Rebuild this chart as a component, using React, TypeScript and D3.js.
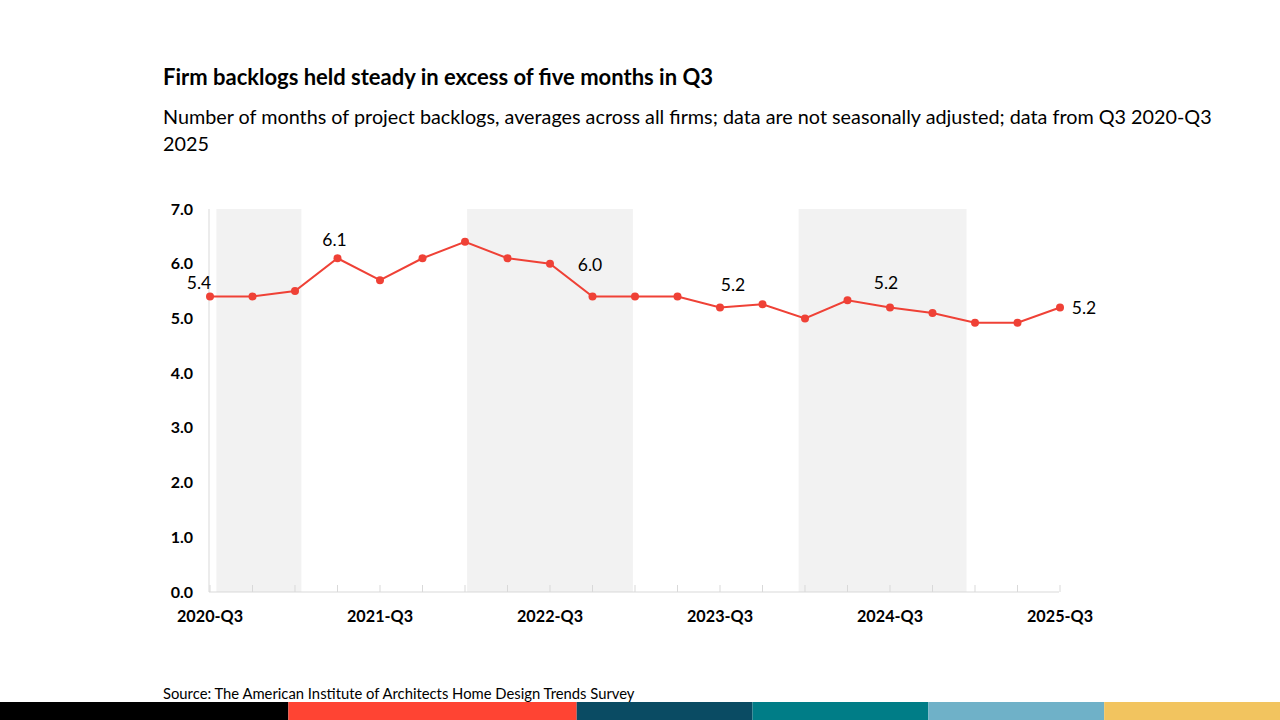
import React from "react";
import * as d3 from "d3";

const quarters = [
  "2020-Q3","2020-Q4","2021-Q1","2021-Q2","2021-Q3","2021-Q4","2022-Q1","2022-Q2","2022-Q3","2022-Q4",
  "2023-Q1","2023-Q2","2023-Q3","2023-Q4","2024-Q1","2024-Q2","2024-Q3","2024-Q4","2025-Q1","2025-Q2","2025-Q3",
];
const backlog = [5.4,5.4,5.5,6.1,5.7,6.1,6.4,6.1,6.0,5.4,5.4,5.4,5.2,5.26,5.0,5.33,5.2,5.1,4.92,4.92,5.2];
const yTicks = [0,1,2,3,4,5,6,7];
const xLabelQuarters = ["2020-Q3","2021-Q3","2022-Q3","2023-Q3","2024-Q3","2025-Q3"];
// shaded bands, in quarter-index units
const bandStarts = [0.15, 6.05, 13.85];
const bandEnds = [2.15, 9.95, 17.8];
// labelled points
const labelIdx = [0, 3, 8, 12, 16, 20];
const labelText = ["5.4","6.1","6.0","5.2","5.2","5.2"];
const stripeColors = ["#000000","#FF4433","#0A4B63","#007D87","#6FB1C8","#F2C45F"];
const stripeWeights = [1.64,1.64,1,1,1,1];

const FONT = "Lato, 'Open Sans', sans-serif";

export default function App() {
  const W = 1280, H = 720;
  const x0 = 210, x1 = 1060, yTop = 209, yBot = 592;
  const x = d3.scaleLinear().domain([0, quarters.length - 1]).range([x0, x1]);
  const y = d3.scaleLinear().domain([0, 7]).range([yBot, yTop]);
  const line = d3.line<number>().x((_, i) => x(i)).y((d) => y(d));
  const labelOffsets: [number, number][] = [[-11, -8], [-3, -12], [40, 7], [13, -16], [-4, -18], [24, 7]];

  const totalW = d3.sum(stripeWeights);
  const stripeX = d3.scaleLinear().domain([0, totalW]).range([0, W]);
  let acc = 0;
  const stripes = stripeWeights.map((w, i) => {
    const s = acc; acc += w;
    return { x: stripeX(s), w: stripeX(acc) - stripeX(s), c: stripeColors[i] };
  });

  return (
    <div style={{ position: "fixed", left: 0, top: 0, width: W, height: H, background: "#fff" }}>
      <svg width={W} height={H} style={{ display: "block" }} fontFamily={FONT}>
        <rect width={W} height={H} fill="#fff" />
        <text x={163} y={85} fontSize={22} fontWeight="bold" fill="#000">
          Firm backlogs held steady in excess of five months in Q3
        </text>
        <text x={163} y={124} fontSize={19.8} fill="#000">
          Number of months of project backlogs, averages across all firms; data are not seasonally adjusted; data from Q3 2020-Q3
        </text>
        <text x={163} y={151} fontSize={19.8} fill="#000">2025</text>

        {bandStarts.map((b, i) => (
          <rect key={i} x={x(b)} y={yTop} width={x(bandEnds[i]) - x(b)} height={yBot - yTop} fill="#F2F2F2" />
        ))}

        <line x1={x0 - 1} x2={x0 - 1} y1={yTop} y2={yBot} stroke="#D9D9D9" strokeWidth={1} />
        <line x1={x0 - 1} x2={x1 - 1} y1={yBot} y2={yBot} stroke="#D9D9D9" strokeWidth={1} />
        {quarters.map((q, i) => (
          <line key={q} x1={x(i)} x2={x(i)} y1={yBot - 7} y2={yBot} stroke="#D9D9D9" strokeWidth={1} />
        ))}

        {yTicks.map((t) => (
          <text key={t} x={193} y={y(t) + 5.5} fontSize={16} fontWeight="bold" textAnchor="end" fill="#000">
            {t.toFixed(1)}
          </text>
        ))}
        {xLabelQuarters.map((q) => (
          <text key={q} x={x(quarters.indexOf(q))} y={622} fontSize={16.2} fontWeight="bold" textAnchor="middle" fill="#000">
            {q}
          </text>
        ))}

        <path d={line(backlog) || ""} fill="none" stroke="#EF4136" strokeWidth={2} />
        {backlog.map((v, i) => (
          <circle key={i} cx={x(i)} cy={y(v)} r={4} fill="#EF4136" />
        ))}
        {labelIdx.map((idx, k) => (
          <text key={k} x={x(idx) + labelOffsets[k][0]} y={y(backlog[idx]) + labelOffsets[k][1]} fontSize={17.5} textAnchor="middle" fill="#000">
            {labelText[k]}
          </text>
        ))}

        <text x={163} y={699} fontSize={14.8} fill="#000">
          Source: The American Institute of Architects Home Design Trends Survey
        </text>
        {stripes.map((s, i) => (
          <rect key={i} x={s.x} y={702} width={s.w} height={18} fill={s.c} />
        ))}
      </svg>
    </div>
  );
}
